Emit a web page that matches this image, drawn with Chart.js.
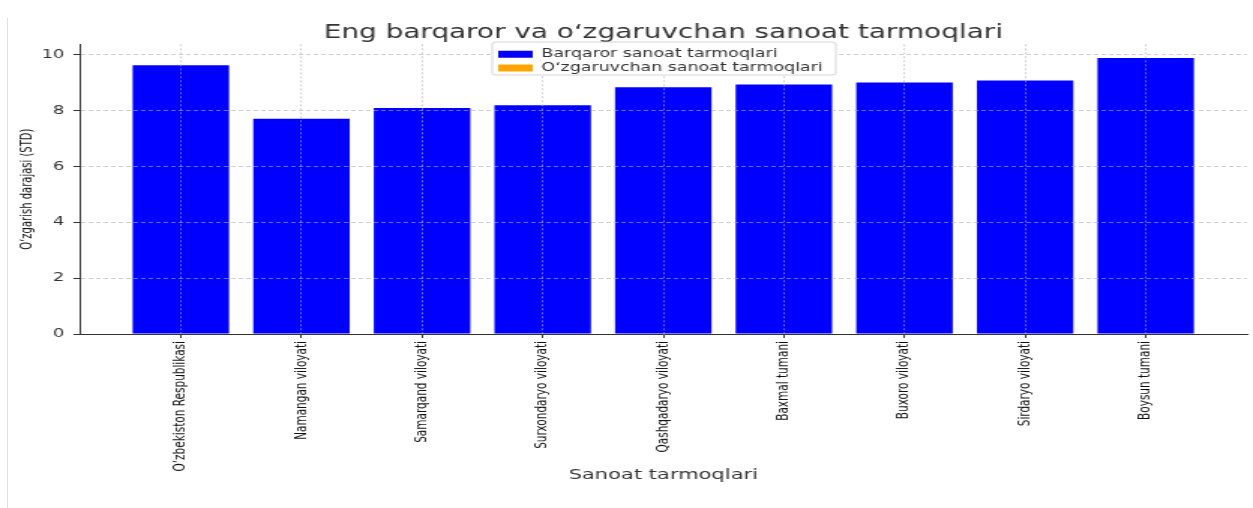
<!DOCTYPE html>
<html>
<head>
<meta charset="utf-8">
<script src="https://cdn.jsdelivr.net/npm/chart.js"></script>
<style>
  html, body { margin: 0; padding: 0; background: #fff; overflow: hidden; }
  #page { position: relative; width: 1253px; height: 508px; }
  #edge { position: absolute; left: 7px; top: 18px; width: 0; height: 490px; border-left: 1px solid #e0e0e0; }
  /* the source picture is stretched sideways, so the chart is drawn narrow and widened */
  #wrap { position: absolute; left: 0; top: 0; width: 835px; height: 508px; transform: scaleX(1.5006); transform-origin: 0 0; }
  #barChart { width: 835px; height: 508px; }
</style>
</head>
<body>
<div id="page">
  <div id="edge"></div>
  <div id="wrap"><canvas id="barChart" width="835" height="508"></canvas></div>
</div>
<script>
const categories = [
  "O\u2018zbekiston Respublikasi",
  "Namangan viloyati",
  "Samarqand viloyati",
  "Surxondaryo viloyati",
  "Qashqadaryo viloyati",
  "Baxmal tumani",
  "Buxoro viloyati",
  "Sirdaryo viloyati",
  "Boysun tumani"
];
const barqarorValues = [9.63, 7.71, 8.10, 8.20, 8.84, 8.94, 9.01, 9.08, 9.89];
const ozgaruvchanValues = [];
const yTicks = [0, 2, 4, 6, 8, 10];

const FONT = "'DejaVu Sans', sans-serif";
const gridColor = 'rgba(176,176,176,0.6)';

// legend sits inside the plot, with a white frame like matplotlib's;
// title is centred over the plot area, not the whole canvas
const legendBox = {
  id: 'legendBox',
  afterLayout(chart) {
    const lg = chart.legend;
    const w = lg.width, h = lg.height;
    lg.left = 330; lg.top = 46.5;
    lg.right = lg.left + w; lg.bottom = lg.top + h;
    const tb = chart.titleBlock;
    tb.left = chart.chartArea.left;
    tb.right = chart.chartArea.right;
  },
  afterDraw(chart) {
    const ctx = chart.ctx;
    ctx.save();
    ctx.fillStyle = '#ffffff';
    ctx.strokeStyle = '#cccccc';
    ctx.lineWidth = 0.8;
    ctx.beginPath();
    ctx.roundRect(328, 42, 229, 33, 2);
    ctx.fill();
    ctx.stroke();
    ctx.restore();
    chart.legend.draw(chart.chartArea);
  }
};

const CHART = document.getElementById("barChart");
var barChart = new Chart(CHART, {
  type: 'bar',
  data: {
    datasets: [{
      label: 'Barqaror sanoat tarmoqlari',
      data: barqarorValues.map((v, i) => ({x: i, y: v})),
      backgroundColor: '#0000ff',
      borderWidth: 0
    }, {
      label: 'O\u2018zgaruvchan sanoat tarmoqlari',
      data: ozgaruvchanValues.map((v, i) => ({x: i, y: v})),
      backgroundColor: '#ffa500',
      borderWidth: 0
    }]
  },
  options: {
    responsive: false,
    animation: false,
    grouped: false,
    categoryPercentage: 1,
    barPercentage: 0.8,
    layout: { padding: { left: 0, right: 4, top: 0, bottom: 20 } },
    plugins: {
      tooltip: { enabled: false },
      title: {
        display: true,
        text: 'Eng barqaror va o\u2018zgaruvchan sanoat tarmoqlari',
        color: '#333',
        font: { family: FONT, size: 18.6, weight: 'normal' },
        padding: { top: 22, bottom: 0 }
      },
      legend: {
        position: 'chartArea',
        align: 'start',
        labels: {
          color: '#333',
          font: { family: FONT, size: 11.6 },
          boxWidth: 23,
          boxHeight: 7,
          padding: 2
        }
      }
    },
    scales: {
      x: {
        type: 'linear',
        offset: false,
        min: -0.84,
        max: 8.84,
        afterBuildTicks: (scale) => { scale.ticks = categories.map((c, i) => ({value: i})); },
        afterFit: (scale) => { scale.height = 154; },
        ticks: {
          autoSkip: false,
          minRotation: 90,
          maxRotation: 90,
          padding: 3,
          color: '#111',
          font: { family: FONT, size: 10.5 },
          callback: (value) => categories[value]
        },
        grid: { offset: false, color: gridColor, z: 1, tickLength: 4, tickColor: '#333', tickBorderDash: [] },
        border: { color: '#333', width: 1, dash: [2, 2], z: 2 },
        title: {
          display: true,
          text: 'Sanoat tarmoqlari',
          color: '#333',
          font: { family: FONT, size: 14 },
          padding: { top: 0, bottom: 4 }
        }
      },
      y: {
        min: 0,
        max: 10.38,
        afterBuildTicks: (scale) => { scale.ticks = yTicks.map(v => ({value: v})); },
        afterFit: (scale) => { scale.width = 53; },
        ticks: {
          padding: 6,
          color: '#333',
          font: { family: FONT, size: 12 }
        },
        grid: { color: gridColor, z: 1, tickLength: 4, tickColor: '#333', tickBorderDash: [] },
        border: { color: '#333', width: 1, dash: [3, 2], z: 2 },
        title: {
          display: true,
          text: 'O\u2018zgarish darajasi (STD)',
          color: '#111',
          font: { family: FONT, size: 10 },
          padding: { top: 12, bottom: 0 }
        }
      }
    }
  },
  plugins: [legendBox]
});
</script>
</body>
</html>
